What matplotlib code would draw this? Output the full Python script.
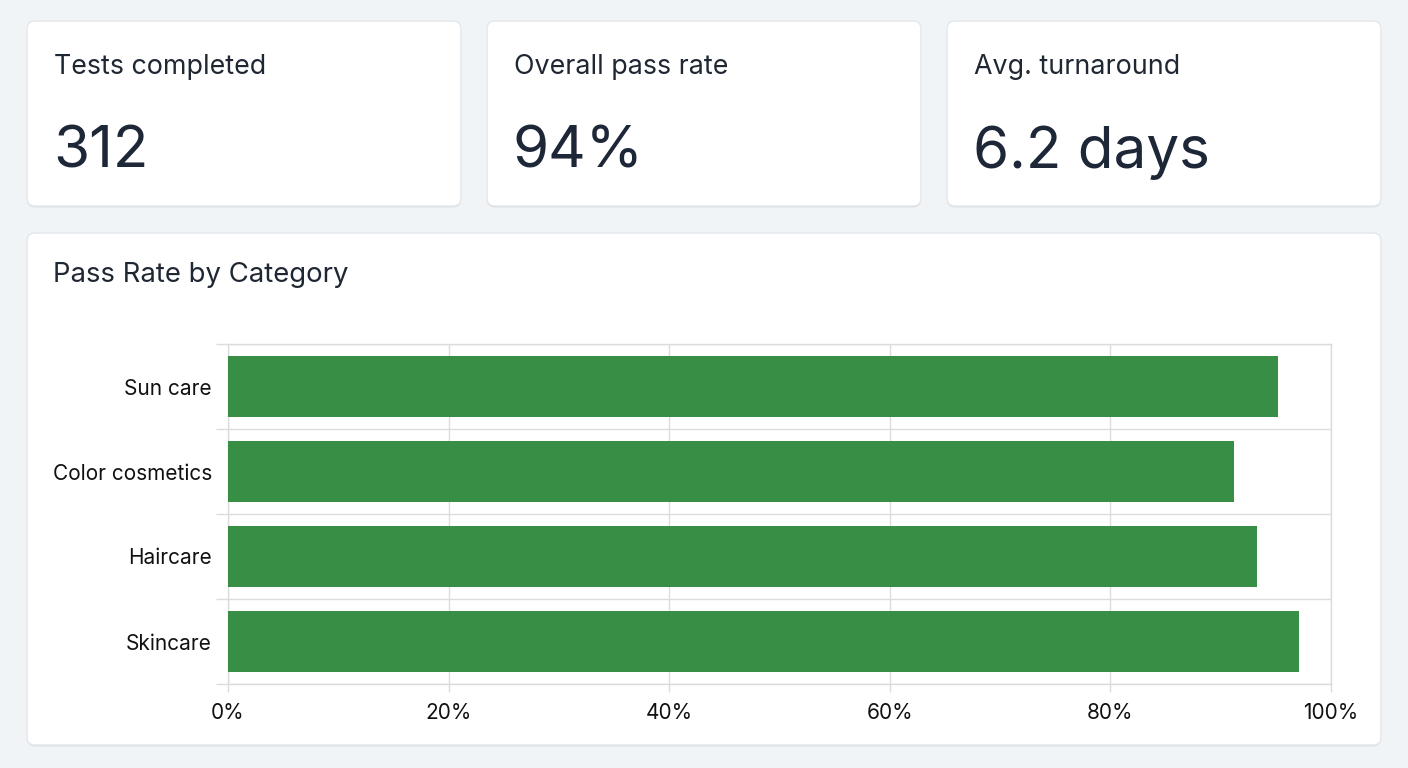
import matplotlib
matplotlib.use("Agg")
import matplotlib.pyplot as plt
from matplotlib.patches import FancyBboxPatch
from matplotlib.ticker import FixedLocator

plt.rcParams['font.family'] = ['Inter', 'DejaVu Sans']

# ---- data ----
kpi_labels = ["Tests completed", "Overall pass rate", "Avg. turnaround"]
kpi_values = ["312", "94%", "6.2 days"]
chart_title = "Pass Rate by Category"
categories = ["Sun care", "Color cosmetics", "Haircare", "Skincare"]
pass_rates = [95.2, 91.2, 93.3, 97.1]
x_ticks = [0, 20, 40, 60, 80, 100]
x_tick_labels = ["0%", "20%", "40%", "60%", "80%", "100%"]

W, H = 1408, 768
BG = "#f1f4f6"
BAR = "#388e44"
GRID = "#dcdcdc"
TXT = "#1f2733"
NUM = "#1e2738"

fig = plt.figure(figsize=(W / 100, H / 100), dpi=100, facecolor=BG)
bg = fig.add_axes([0, 0, 1, 1])
bg.set_xlim(0, W)
bg.set_ylim(H, 0)
bg.axis("off")
bg.set_facecolor(BG)


def card(x0, y0, x1, y1):
    sh = FancyBboxPatch((x0, y0 + 1.5), x1 - x0, y1 - y0,
                        boxstyle="round,pad=0,rounding_size=8",
                        fc="#dde2e7", ec="none", zorder=1)
    bg.add_patch(sh)
    p = FancyBboxPatch((x0, y0), x1 - x0, y1 - y0,
                       boxstyle="round,pad=0,rounding_size=8",
                       fc="white", ec="#e3e7eb", lw=1.0, zorder=2)
    bg.add_patch(p)


kpi_x = [(27, 461), (487, 921), (947, 1381)]
for (x0, x1), lab, val in zip(kpi_x, kpi_labels, kpi_values):
    card(x0, 21, x1, 206)
    bg.text(x0 + 27, 67, lab, fontsize=19.3, color=TXT, va="center", ha="left", zorder=3)
    bg.text(x0 + 26, 168, val, fontsize=42, color=NUM, va="baseline", ha="left", zorder=3)

card(27, 233, 1381, 745)
bg.text(53, 275, chart_title, fontsize=19.8, color=TXT, va="center", ha="left", zorder=3)

# ---- chart axes ----
L, R, T, B = 228, 1331, 344, 684
ax = fig.add_axes([L / W, 1 - B / H, (R - L) / W, (B - T) / H], zorder=5)
ax.patch.set_alpha(0)
ypos = list(range(len(categories)))
ax.barh(ypos, pass_rates, height=0.71, color=BAR, zorder=3)
ax.set_xlim(0, 100)
ax.set_ylim(len(categories) - 0.5, -0.5)
ax.set_yticks(ypos)
ax.set_yticklabels(categories)
ax.yaxis.set_minor_locator(FixedLocator([i - 0.5 for i in range(len(categories) + 1)]))
ax.set_xticks(x_ticks)
ax.set_xticklabels(x_tick_labels)
for s in ax.spines.values():
    s.set_color(GRID)
    s.set_linewidth(1)
    s.set_zorder(1)
ax.tick_params(axis="y", which="major", length=0, pad=11.5, labelsize=15, labelcolor="#111111")
ax.tick_params(axis="y", which="minor", length=8.6, width=1, color=GRID)
ax.tick_params(axis="x", which="major", length=5.8, width=1, color=GRID, pad=8,
               labelsize=15, labelcolor="#111111")
ax.grid(axis="y", which="minor", color=GRID, lw=1, zorder=0)
ax.grid(axis="x", which="major", color=GRID, lw=1, zorder=0)
ax.grid(axis="y", which="major", visible=False)
ax.set_axisbelow(True)

fig.savefig("out.png", dpi=100, facecolor=BG)
